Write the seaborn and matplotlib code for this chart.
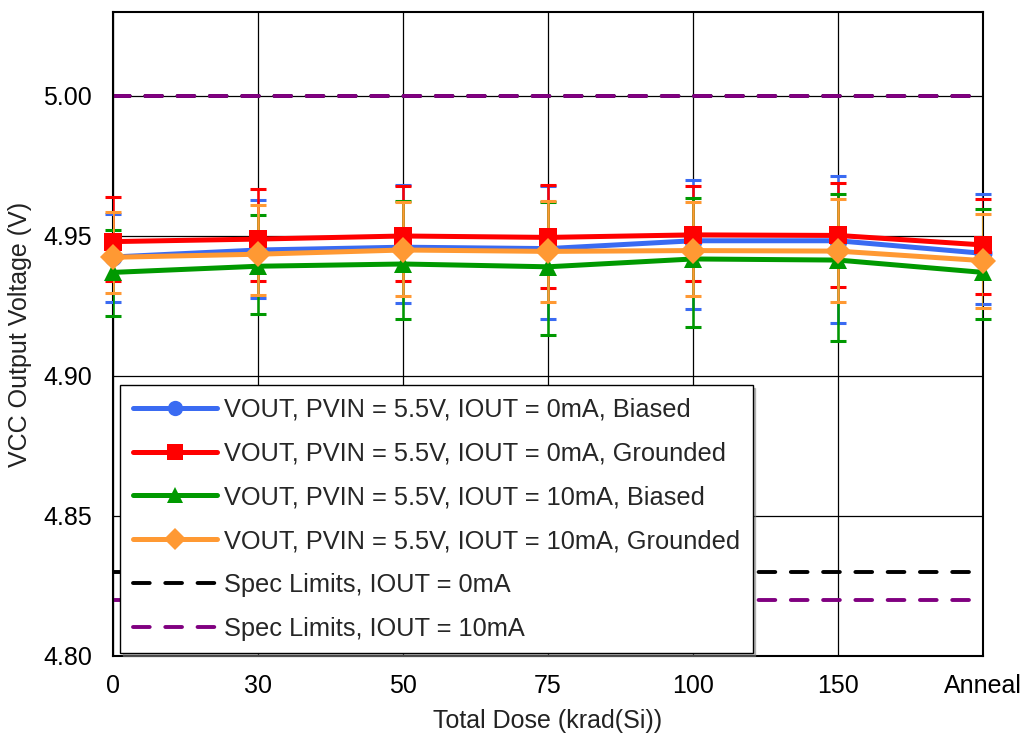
import numpy as np
import pandas as pd
import matplotlib
matplotlib.use("Agg")
import matplotlib.pyplot as plt
import seaborn as sns
from matplotlib.lines import Line2D

# Total dose steps (categorical axis)
doses = ["0", "30", "50", "75", "100", "150", "Anneal"]

series = [
    "VOUT, PVIN = 5.5V, IOUT = 0mA, Biased",
    "VOUT, PVIN = 5.5V, IOUT = 0mA, Grounded",
    "VOUT, PVIN = 5.5V, IOUT = 10mA, Biased",
    "VOUT, PVIN = 5.5V, IOUT = 10mA, Grounded",
]

# mean values
bias_0ma = [4.9425, 4.9450, 4.9460, 4.9455, 4.9483, 4.9483, 4.9438]
gnd_0ma = [4.9480, 4.9489, 4.9500, 4.9495, 4.9504, 4.9502, 4.9468]
bias_10ma = [4.9370, 4.9392, 4.9400, 4.9390, 4.9418, 4.9414, 4.9370]
gnd_10ma = [4.9424, 4.9435, 4.9450, 4.9445, 4.9448, 4.9446, 4.9412]

# error bar ends (low / high)
bias_0ma_lo = [4.9265, 4.9279, 4.9260, 4.9205, 4.9240, 4.9189, 4.9258]
bias_0ma_hi = [4.9580, 4.9629, 4.9683, 4.9678, 4.9700, 4.9715, 4.9650]
gnd_0ma_lo = [4.9340, 4.9339, 4.9340, 4.9315, 4.9340, 4.9318, 4.9294]
gnd_0ma_hi = [4.9640, 4.9668, 4.9680, 4.9682, 4.9680, 4.9690, 4.9632]
bias_10ma_lo = [4.9214, 4.9223, 4.9203, 4.9145, 4.9176, 4.9124, 4.9204]
bias_10ma_hi = [4.9520, 4.9576, 4.9625, 4.9620, 4.9637, 4.9650, 4.9595]
gnd_10ma_lo = [4.9295, 4.9288, 4.9286, 4.9263, 4.9286, 4.9264, 4.9243]
gnd_10ma_hi = [4.9585, 4.9612, 4.9620, 4.9626, 4.9623, 4.9632, 4.9580]

spec_0ma = [4.83, 5.00]
spec_10ma = [4.82, 5.00]

colors = ["#3A6BF2", "#FF0000", "#009900", "#FF9933"]
markers = ["o", "s", "^", "D"]

means = [bias_0ma, gnd_0ma, bias_10ma, gnd_10ma]
lows = [bias_0ma_lo, gnd_0ma_lo, bias_10ma_lo, gnd_10ma_lo]
highs = [bias_0ma_hi, gnd_0ma_hi, bias_10ma_hi, gnd_10ma_hi]

xpos = np.arange(len(doses))
df = pd.concat([pd.DataFrame({"x": xpos, "v": m, "series": s})
                for s, m in zip(series, means)], ignore_index=True)

sns.set_theme(style="white")
plt.rcParams["font.family"] = ["Liberation Sans", "DejaVu Sans"]

fig = plt.figure(figsize=(10.24, 7.36), dpi=100)
ax = fig.add_axes([0.1104, 0.1087, 0.8496, 0.875])

# error bars first so the lines / markers sit on top
for m, lo, hi, c in zip(means, lows, highs, colors):
    m = np.array(m)
    yerr = [m - np.array(lo), np.array(hi) - m]
    ax.errorbar(xpos, m, yerr=yerr, fmt="none", ecolor=c, elinewidth=1.8,
                capsize=5.5, capthick=2.2, zorder=3)

sns.lineplot(data=df, x="x", y="v", hue="series", style="series",
             palette=colors, markers=markers, dashes=False, linewidth=3.6,
             markersize=13, markeredgewidth=0, ax=ax, zorder=4, legend=False)
for ln in ax.lines:
    ln.set_clip_on(False)

# spec limits
dash = (0, (4.3, 4.0))
for v in spec_0ma:
    ax.axhline(v, color="black", lw=2.8, ls=dash, dash_capstyle="round", zorder=2)
for v in spec_10ma:
    ax.axhline(v, color="#800080", lw=2.8, ls=dash, dash_capstyle="round", zorder=2)

ax.set_xlim(0, len(doses) - 1)
ax.set_ylim(4.80, 5.03)
ax.set_xticks(xpos)
ax.set_xticklabels(doses)
ax.set_yticks([4.80, 4.85, 4.90, 4.95, 5.00])
ax.set_yticklabels(["4.80", "4.85", "4.90", "4.95", "5.00"])
ax.tick_params(axis="both", length=0, labelsize=18, colors="black")
ax.tick_params(axis="y", pad=15)
ax.tick_params(axis="x", pad=13)
ax.grid(True, color="black", lw=0.9)
ax.set_axisbelow(True)
for sp in ax.spines.values():
    sp.set_color("black")
    sp.set_linewidth(1.5)

ax.set_xlabel("Total Dose (krad(Si))", fontsize=18, color="#222222", labelpad=8)
ax.set_ylabel("VCC Output Voltage (V)", fontsize=18, color="#222222", labelpad=8)

# legend
handles = [Line2D([], [], color=c, marker=mk, lw=3.6, markersize=11,
                  markeredgewidth=0) for c, mk in zip(colors, markers)]
handles.append(Line2D([], [], color="black", lw=2.8, ls=dash, dash_capstyle="round"))
handles.append(Line2D([], [], color="#800080", lw=2.8, ls=dash, dash_capstyle="round"))
labels = series + ["Spec Limits, IOUT = 0mA", "Spec Limits, IOUT = 10mA"]
leg = ax.legend(handles, labels, loc="lower left", bbox_to_anchor=(0.008, 0.004),
                fontsize=18.3, frameon=True, fancybox=False,
                shadow={"color": "gray", "alpha": 0.5},
                handlelength=3.3, labelspacing=0.78, borderpad=0.5,
                handletextpad=0.28, borderaxespad=0)
leg.get_frame().set_edgecolor("black")
leg.get_frame().set_linewidth(1.0)
leg.set_zorder(10)

fig.savefig("out.png", dpi=100)
